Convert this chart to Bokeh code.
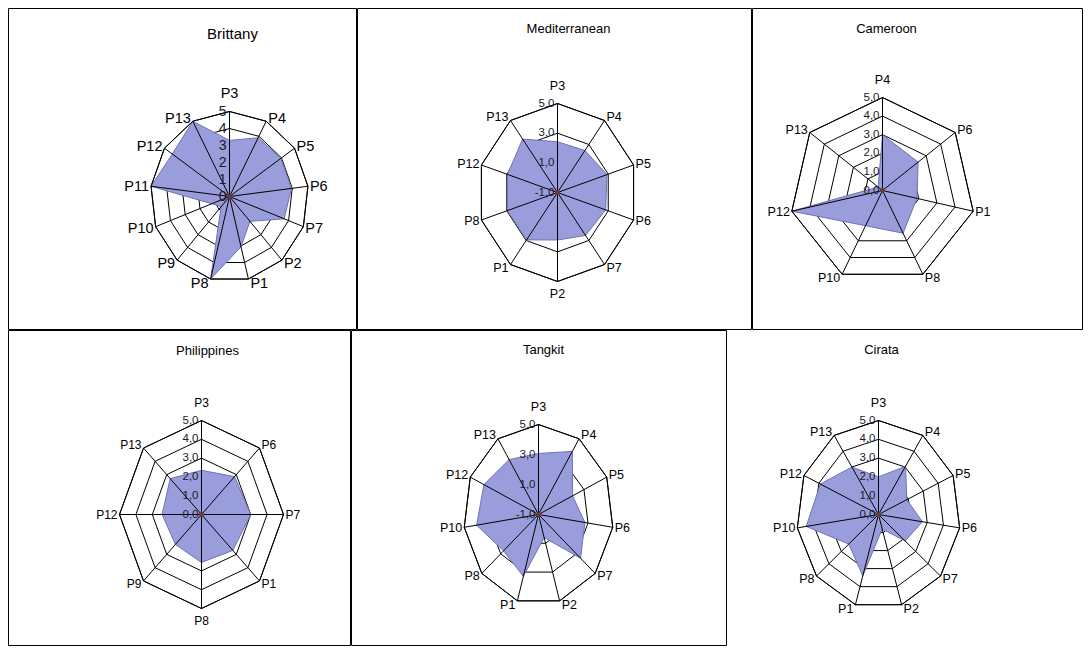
import math
from bokeh.plotting import figure
from bokeh.layouts import column, row
from bokeh.models import Range1d
from bokeh.core.properties import value
from bokeh.embed import file_html
from bokeh.resources import INLINE

FONT = "Liberation Sans"

# ---------------- data ----------------
brittany_cats = ["P3", "P4", "P5", "P6", "P7", "P2", "P1", "P8", "P9", "P10", "P11", "P12", "P13"]
brittany_vals = [3.3, 3.9, 3.95, 3.95, 3.7, 1.95, 3.05, 5.0, 0.8, 1.2, 5.0, 4.4, 5.0]
brittany_rings = [1, 2, 3, 4, 5]
brittany_ticks = [0, 1, 2, 3, 4, 5]
brittany_tick_labels = ["0", "1", "2", "3", "4", "5"]

med_cats = ["P3", "P4", "P5", "P6", "P7", "P2", "P1", "P8", "P12", "P13"]
med_vals = [2.42, 2.5, 2.9, 2.8, 2.58, 2.2, 2.95, 2.95, 2.95, 3.45]
med_rings = [1, 3, 5]
med_ticks = [-1, 1, 3, 5]
med_tick_labels = ["-1,0", "1,0", "3,0", "5,0"]

cam_cats = ["P4", "P6", "P1", "P8", "P10", "P12", "P13"]
cam_vals = [3.0, 2.45, 1.9, 2.55, 2.1, 5.0, 0.3]
cam_rings = [1, 2, 3, 4, 5]
cam_ticks = [0, 1, 2, 3, 4, 5]
cam_tick_labels = ["0,0", "1,0", "2,0", "3,0", "4,0", "5,0"]

phil_cats = ["P3", "P6", "P7", "P1", "P8", "P9", "P12", "P13"]
phil_vals = [2.35, 2.85, 3.0, 2.7, 2.55, 2.25, 2.4, 2.7]
phil_rings = [1, 2, 3, 4, 5]
phil_ticks = [0, 1, 2, 3, 4, 5]
phil_tick_labels = ["0,0", "1,0", "2,0", "3,0", "4,0", "5,0"]

tang_cats = ["P3", "P4", "P5", "P6", "P7", "P2", "P1", "P8", "P10", "P12", "P13"]
tang_vals = [3.07, 4.0, 2.0, 2.75, 3.45, 0.6, 3.3, 2.7, 4.0, 3.8, 3.35]
tang_rings = [1, 3, 5]
tang_ticks = [-1, 1, 3, 5]
tang_tick_labels = ["-1,0", "1,0", "3,0", "5,0"]

cir_cats = ["P3", "P4", "P5", "P6", "P7", "P2", "P1", "P8", "P10", "P12", "P13"]
cir_vals = [2.0, 3.05, 1.9, 2.7, 2.15, 0.8, 3.4, 2.4, 4.45, 3.9, 3.0]
cir_rings = [1, 2, 3, 4, 5]
cir_ticks = [0, 1, 2, 3, 4, 5]
cir_tick_labels = ["0,0", "1,0", "2,0", "3,0", "4,0", "5,0"]

FILL = "#9a9ddc"
EDGE = "#6e72b4"


def radar(cats, vals, vmin, vmax, rings, ticks, tick_labels, title,
          W, H, cx, cy, Rx, Ry, tx, ty, title_size, label_size, tick_size,
          outline=True):
    p = figure(width=W, height=H, output_backend="svg", toolbar_location=None,
               x_range=Range1d(-cx / Rx, (W - cx) / Rx),
               y_range=Range1d(-(H - cy) / Ry, cy / Ry),
               x_axis_location=None, y_axis_location=None, min_border=0)
    p.grid.visible = False
    p.outline_line_color = "black" if outline else None
    p.outline_line_width = 1
    p.background_fill_color = "white"
    p.border_fill_color = "white"

    n = len(cats)
    ang = [2 * math.pi * k / n for k in range(n)]

    def norm(v):
        return (v - vmin) / (vmax - vmin)

    # rings (behind the fill)
    rxs, rys = [], []
    for rv in rings:
        r = norm(rv)
        xs = [math.sin(a) * r for a in ang]
        ys = [math.cos(a) * r for a in ang]
        rxs.append(xs + xs[:1])
        rys.append(ys + ys[:1])
    p.multi_line(rxs, rys, line_color="black", line_width=1)

    # filled series
    px = [math.sin(a) * norm(v) for a, v in zip(ang, vals)]
    py = [math.cos(a) * norm(v) for a, v in zip(ang, vals)]
    p.patch(px, py, fill_color=FILL, fill_alpha=1.0, line_color=EDGE, line_width=1)

    # spokes (over the fill)
    r0 = norm(vmin)
    p.segment(x0=[math.sin(a) * r0 for a in ang], y0=[math.cos(a) * r0 for a in ang],
              x1=[math.sin(a) for a in ang], y1=[math.cos(a) for a in ang],
              line_color="black", line_width=1)
    # outer ring drawn again on top
    p.multi_line([rxs[-1]], [rys[-1]], line_color="black", line_width=1)

    # centre dot
    p.scatter([r0 * 0.0], [r0 * 0.0], size=4, color="#6b3a3a")

    # tick labels along the first spoke
    p.text(x=[0.0] * len(ticks), y=[norm(t) for t in ticks], text=tick_labels,
           text_align="right", text_baseline="middle", x_offset=-3, y_offset=-1,
           text_font=value(FONT), text_font_size=f"{tick_size}px", text_color="#1a1a2e")

    # category labels
    for a, c in zip(ang, cats):
        s, co = math.sin(a), math.cos(a)
        if abs(s) < 0.15:
            align = "center"
            if co > 0:
                base, yo = "bottom", -11
            else:
                base, yo = "top", 5
            xo = 0
        else:
            align = "left" if s > 0 else "right"
            base = "middle"
            xo = 2 if s > 0 else -2
            yo = -4 * co
        p.text(x=[s], y=[co], text=[c], text_align=align, text_baseline=base,
               x_offset=xo, y_offset=yo, text_font=value(FONT),
               text_font_size=f"{label_size}px", text_color="black")

    # title
    p.text(x=[(tx - cx) / Rx], y=[(cy - ty) / Ry], text=[title],
           text_align="center", text_baseline="middle", text_font=value(FONT),
           text_font_size=f"{title_size}px", text_color="black")
    return p


b = radar(brittany_cats, brittany_vals, 0, 5, brittany_rings, brittany_ticks,
          brittany_tick_labels, "Brittany",
          349, 322, 221, 188, 79, 85, 224, 25, 15, 14.5, 14)
m = radar(med_cats, med_vals, -1, 5, med_rings, med_ticks, med_tick_labels,
          "Mediterranean",
          395, 322, 200, 184, 80, 89, 211, 20, 13, 12.5, 11.5)
c = radar(cam_cats, cam_vals, 0, 5, cam_rings, cam_ticks, cam_tick_labels,
          "Cameroon",
          331, 322, 130, 182, 93, 93, 134, 20, 13, 12.5, 11.5)
ph = radar(phil_cats, phil_vals, 0, 5, phil_rings, phil_ticks, phil_tick_labels,
           "Philippines",
           343, 316, 193, 184, 82, 94, 199, 20, 13, 12, 11.5)
t = radar(tang_cats, tang_vals, -1, 5, tang_rings, tang_ticks, tang_tick_labels,
          "Tangkit",
          376, 316, 187, 184, 75, 90, 192, 19, 13, 12.5, 11.5)
ci = radar(cir_cats, cir_vals, 0, 5, cir_rings, cir_ticks, cir_tick_labels,
           "Cirata",
           356, 316, 151, 184, 82, 94, 154, 19, 13, 12.5, 11.5, outline=False)

layout = column(row(b, m, c), row(ph, t, ci), margin=(8, 0, 0, 8))

open("out.html", "w").write(file_html(layout, INLINE))
